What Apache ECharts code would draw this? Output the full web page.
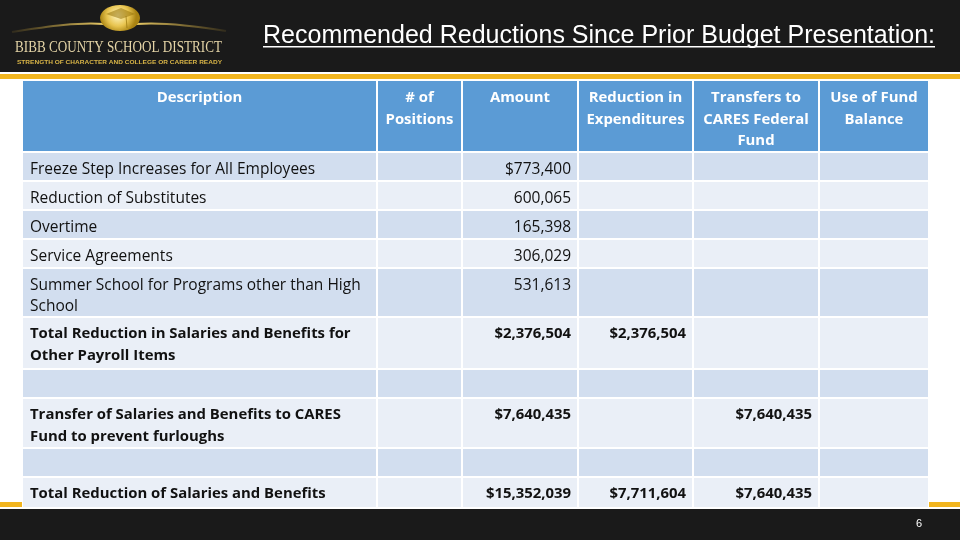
<!DOCTYPE html>
<html><head><meta charset="utf-8">
<script src="https://cdn.jsdelivr.net/npm/echarts@6/dist/echarts.min.js"></script>
<style>html,body{margin:0;padding:0;background:#fff}#c{width:960px;height:540px}</style>
</head><body><div id="c"></div>
<script>
// ---------- data ----------
const title = 'Recommended Reductions Since Prior Budget Presentation:';
const logoName = 'BIBB COUNTY SCHOOL DISTRICT';
const logoTagline = 'STRENGTH OF CHARACTER AND COLLEGE OR CAREER READY';
const pageNumber = '6';
const headers = ['Description', '# of\nPositions', 'Amount', 'Reduction in\nExpenditures', 'Transfers to\nCARES Federal\nFund', 'Use of Fund\nBalance'];
const descriptions = [
  'Freeze Step Increases for All Employees',
  'Reduction of Substitutes',
  'Overtime',
  'Service Agreements',
  'Summer School for Programs other than High\nSchool',
  'Total Reduction in Salaries and Benefits for\nOther Payroll Items',
  '',
  'Transfer of Salaries and Benefits to CARES\nFund to prevent furloughs',
  '',
  'Total Reduction of Salaries and Benefits'
];
const totalRows = [false, false, false, false, false, true, false, true, false, true];
const positions = [null, null, null, null, null, null, null, null, null, null];
const amounts = [773400, 600065, 165398, 306029, 531613, 2376504, null, 7640435, null, 15352039];
const amountDollar = [true, false, false, false, false, true, false, true, false, true];
const reductions = [null, null, null, null, null, 2376504, null, null, null, 7711604];
const transfers = [null, null, null, null, null, null, null, 7640435, null, 7640435];
const fundBalance = [null, null, null, null, null, null, null, null, null, null];

// ---------- layout ----------
const colEdges = [22, 377, 462, 578, 693, 819, 929];
const headerTop = 80, headerH = 72;
const rowHeights = [29, 29, 29, 29, 49, 52, 29, 50, 29, 31];
const BF = '"Open Sans", Lato, sans-serif';
const FS_REG = '15.5px ';
const FS_BOLD = '14.9px ';

function fmt(v, dollar) {
  if (v == null) return '';
  return (dollar ? '$' : '') + v.toLocaleString('en-US');
}
const mctx = document.createElement('canvas').getContext('2d');
function measure(font, text) { mctx.font = font; return mctx.measureText(text).width; }

const g = [];
// backgrounds
g.push({type: 'rect', shape: {x: 0, y: 0, width: 960, height: 72}, style: {fill: '#1a1a1a'}, z: 0});
g.push({type: 'rect', shape: {x: 0, y: 74, width: 960, height: 5}, style: {fill: '#F2B51E'}, z: 0});
g.push({type: 'rect', shape: {x: 0, y: 502, width: 960, height: 5}, style: {fill: '#F2B51E'}, z: 0});
g.push({type: 'rect', shape: {x: 0, y: 509, width: 960, height: 31}, style: {fill: '#1a1a1a'}, z: 0});

// logo swoosh
g.push({type: 'bezierCurve', shape: {x1: 12, y1: 32, x2: 104, y2: 24, cpx1: 50, cpy1: 26, cpx2: 80, cpy2: 22},
  style: {stroke: new echarts.graphic.LinearGradient(0, 0, 1, 0, [{offset: 0, color: 'rgba(200,160,50,0.1)'}, {offset: 1, color: '#efd06a'}]), lineWidth: 2, fill: null}, z: 2});
g.push({type: 'bezierCurve', shape: {x1: 136, y1: 24, x2: 226, y2: 31, cpx1: 160, cpy1: 22, cpx2: 190, cpy2: 25},
  style: {stroke: new echarts.graphic.LinearGradient(0, 0, 1, 0, [{offset: 0, color: '#efd06a'}, {offset: 1, color: 'rgba(200,160,50,0.1)'}]), lineWidth: 2, fill: null}, z: 2});
g.push({type: 'ellipse', shape: {cx: 120, cy: 18, rx: 20, ry: 13},
  style: {fill: new echarts.graphic.RadialGradient(0.45, 0.4, 0.7, [{offset: 0, color: '#fff6c2'}, {offset: 0.6, color: '#e8c44f'}, {offset: 1, color: '#a98312'}])}, z: 2});
g.push({type: 'polygon', shape: {points: [[106, 14], [121, 8], [135, 14], [121, 19]]},
  style: {fill: 'rgba(150,115,10,0.55)'}, z: 3});
g.push({type: 'polyline', shape: {points: [[126, 16], [127, 28]]}, style: {stroke: 'rgba(150,115,10,0.7)', lineWidth: 1}, z: 3});

const nameFont = '17px "Liberation Serif", serif';
const nameW = measure(nameFont, logoName);
g.push({type: 'text', x: 15, y: 48, scaleX: 207 / nameW, originX: 0,
  style: {text: logoName, font: nameFont, fill: '#e3d3a6', verticalAlign: 'middle'}, z: 3});
const tagFont = 'bold 6px "Liberation Sans", sans-serif';
const tagW = measure(tagFont, logoTagline);
g.push({type: 'text', x: 17, y: 62, scaleX: 205 / tagW, originX: 0,
  style: {text: logoTagline, font: tagFont, fill: '#d9b547', verticalAlign: 'middle'}, z: 3});

// title
const titleFont = '25px "Liberation Sans", Arial, sans-serif';
const titleW = measure(titleFont, title);
const tScale = 672 / titleW;
g.push({type: 'text', x: 263, y: 36, scaleX: tScale, originX: 0,
  style: {text: title, font: titleFont, fill: '#ffffff', verticalAlign: 'middle'}, z: 3});
g.push({type: 'rect', shape: {x: 263, y: 46, width: 672, height: 1.5}, style: {fill: '#ffffff'}, z: 3});

// white table backdrop (cell borders)
const tableBottom = headerTop + headerH + rowHeights.reduce((a, b) => a + b, 0);
g.push({type: 'rect', shape: {x: colEdges[0], y: headerTop, width: colEdges[colEdges.length - 1] - colEdges[0], height: tableBottom - headerTop}, style: {fill: '#ffffff'}, z: 1});

// header
for (let c = 0; c < headers.length; c++) {
  const x0 = colEdges[c] + 1, x1 = colEdges[c + 1] - 1;
  g.push({type: 'rect', shape: {x: x0, y: headerTop + 1, width: x1 - x0, height: headerH - 2}, style: {fill: '#5B9BD5'}, z: 2});
  g.push({type: 'text', x: (x0 + x1) / 2, y: headerTop + 7.5,
    style: {text: headers[c], font: 'bold ' + FS_BOLD + BF, fill: '#ffffff', align: 'center', verticalAlign: 'top', lineHeight: 21.5}, z: 3});
}

// body
const cols = [
  (r) => ({t: descriptions[r], align: 'left'}),
  (r) => ({t: fmt(positions[r], false), align: 'right'}),
  (r) => ({t: fmt(amounts[r], amountDollar[r]), align: 'right'}),
  (r) => ({t: fmt(reductions[r], true), align: 'right'}),
  (r) => ({t: fmt(transfers[r], true), align: 'right'}),
  (r) => ({t: fmt(fundBalance[r], true), align: 'right'})
];
let y = headerTop + headerH;
for (let r = 0; r < rowHeights.length; r++) {
  const h = rowHeights[r];
  const fill = r % 2 === 0 ? '#D2DEEF' : '#EAEFF7';
  for (let c = 0; c < cols.length; c++) {
    const x0 = colEdges[c] + 1, x1 = colEdges[c + 1] - 1;
    g.push({type: 'rect', shape: {x: x0, y: y + 1, width: x1 - x0, height: h - 2}, style: {fill: fill}, z: 2});
    const cell = cols[c](r);
    if (cell.t) {
      g.push({type: 'text', x: cell.align === 'left' ? x0 + 7 : x1 - 6, y: y + 6.5,
        style: {text: cell.t, font: totalRows[r] ? 'bold ' + FS_BOLD + BF : FS_REG + BF, fill: '#111111', align: cell.align, verticalAlign: 'top', lineHeight: 21.5}, z: 3});
    }
  }
  y += h;
}

// page number
g.push({type: 'text', x: 919, y: 524, style: {text: pageNumber, font: '11px "Liberation Sans", sans-serif', fill: '#ffffff', align: 'center', verticalAlign: 'middle'}, z: 3});

const chart = echarts.init(document.getElementById('c'), null, {renderer: 'canvas'});
chart.setOption({backgroundColor: '#ffffff', animation: false, graphic: {elements: g}});
</script>
</body></html>
